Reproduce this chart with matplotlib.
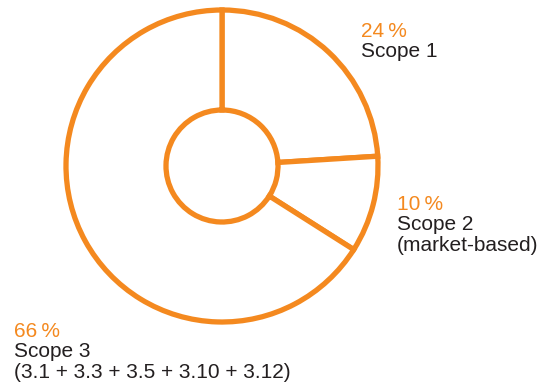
import matplotlib.pyplot as plt

# emission shares by scope
scopes = ['Scope 1', 'Scope 2\n(market-based)', 'Scope 3\n(3.1 + 3.3 + 3.5 + 3.10 + 3.12)']
shares = [24, 10, 66]

ORANGE = '#F4891F'
DARK = '#231F20'
FONT = ['Liberation Sans', 'DejaVu Sans']

W, H = 546, 386
fig = plt.figure(figsize=(W / 100, H / 100), dpi=100)

# donut placed in pixel units: centre (222, 166) from top-left, radius 156 px
cx, cy, r = 222, 166, 156
lim = 1.1
side = 2 * lim * r
ax = fig.add_axes([(cx - side / 2) / W, (H - cy - side / 2) / H, side / W, side / H])
ax.pie(shares, startangle=90, counterclock=False, radius=1,
       wedgeprops=dict(width=1 - 56 / 156, facecolor='white',
                       edgecolor=ORANGE, linewidth=3.8))
ax.set_xlim(-lim, lim)
ax.set_ylim(-lim, lim)
ax.set_aspect('equal')
ax.axis('off')

# label anchors: left x and first baseline y (pixels from top-left)
anchors = [(361, 36.7), (397, 210), (14, 336.7)]
step = 20.5

for (x, y), name, val in zip(anchors, scopes, shares):
    fig.text(x / W, 1 - y / H, f'{val}\u2009%', color=ORANGE, fontsize=15,
             family=FONT, ha='left', va='baseline')
    for i, line in enumerate(name.split('\n')):
        fig.text(x / W, 1 - (y + step * (i + 1)) / H, line, color=DARK,
                 fontsize=15, family=FONT, ha='left', va='baseline')

fig.savefig('out.png', dpi=100, facecolor='white')
